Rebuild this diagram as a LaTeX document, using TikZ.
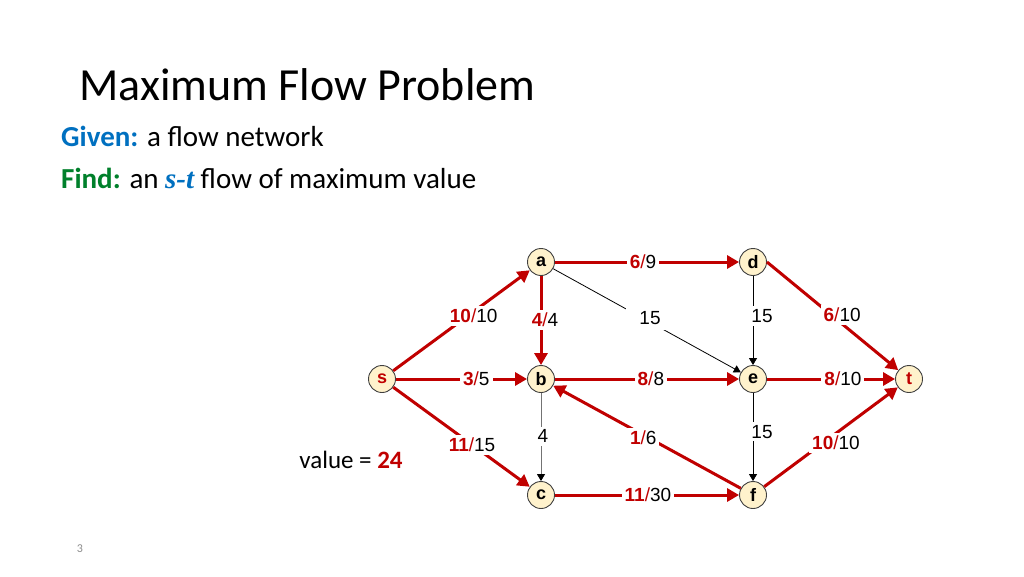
\documentclass[tikz,border=0pt]{standalone}
\usepackage{fontspec}
\setmainfont{Carlito}
\newfontfamily\arial{Liberation Sans}
\newfontfamily\serifit{Liberation Serif}
\usetikzlibrary{arrows.meta}
\definecolor{fred}{HTML}{C00000}
\definecolor{gblue}{HTML}{0070C0}
\definecolor{fgreen}{HTML}{00802B}
\definecolor{nodefill}{HTML}{FFF2CC}
\definecolor{pgnum}{HTML}{8C8C8C}
\newcommand\fl[2]{\textcolor{fred}{\textbf{#1}/}#2}
\tikzset{
  vtx/.style={circle, draw=black!75, line width=0.9pt, fill=nodefill, minimum size=27pt, inner sep=0pt, font=\arial\fontsize{18}{18}\selectfont\bfseries},
  redarrow/.style={draw=fred, line width=3pt, -{Triangle[length=12pt,width=13pt]}},
  blackarrow/.style={draw=black, line width=0.8pt, -{Triangle[length=7pt,width=8pt]}},
  greyarrow/.style={draw=black!55, line width=0.9pt, -{Triangle[length=7pt,width=8pt,color=black,fill=black]}},
  lab/.style={fill=white, inner xsep=3pt, inner ysep=3pt, text=black, font=\arial\fontsize{19}{19}\selectfont},
}
\begin{document}
\begin{tikzpicture}[x=1pt,y=-1pt]
\path[use as bounding box, fill=white] (0,0) rectangle (1024,576);

% texts
\node[anchor=base west, inner sep=0pt, font=\fontsize{46}{46}\selectfont] (title) at (79,100) {Maximum Flow Problem};
\node[anchor=base west, inner sep=0pt, font=\fontsize{29}{29}\selectfont] (given) at (61,146) {\textcolor{gblue}{\textbf{Given:}} a flow network};
\node[anchor=base west, inner sep=0pt, font=\fontsize{29}{29}\selectfont] (find) at (61,188) {\textcolor{fgreen}{\textbf{Find:}} an \textcolor{gblue}{\serifit\bfseries\itshape s-t} flow of maximum value};
\node[inner sep=0pt, font=\fontsize{25}{25}\selectfont] (value) at (351,460) {value = \textcolor{fred}{\textbf{24}}};
\node[inner sep=0pt, text=pgnum, font=\fontsize{12}{12}\selectfont] (pg) at (80,549) {3};

% vertices
\node[vtx, text=fred] (s) at (382,379) {s};
\node[vtx] (a) at (541,262) {a};
\node[vtx] (b) at (541,379) {b};
\node[vtx] (c) at (541,495) {c};
\node[vtx] (d) at (753,262) {d};
\node[vtx] (e) at (753,379) {e};
\node[vtx] (f) at (753,495) {f};
\node[vtx, text=fred] (t) at (909,379) {t};

% edges
\draw[blackarrow] (a) -- node[lab, pos=0.516, yshift=4pt, inner xsep=13pt, inner ysep=5pt] (lae) {15} (e);
\draw[blackarrow] (d) -- node[lab, pos=0.45, xshift=9pt] (lde) {15} (e);
\draw[blackarrow] (e) -- node[lab, pos=0.44, xshift=9pt] (lef) {15} (f);
\draw[greyarrow] (b) -- node[lab, pos=0.49, xshift=2pt] (lbc) {4} (c);
\draw[redarrow] (s) -- node[lab, pos=0.545, xshift=6pt] (lsa) {\fl{10}{10}} (a);
\draw[redarrow] (a) -- node[lab, pos=0.49, xshift=4pt] (lab1) {\fl{4}{4}} (b);
\draw[redarrow] (a) -- node[lab, pos=0.478] (lad) {\fl{6}{9}} (d);
\draw[redarrow] (d.east) -- node[lab, pos=0.489, xshift=11pt] (ldt) {\fl{6}{10}} (t);
\draw[redarrow] (s) -- node[lab, pos=0.613] (lsb) {\fl{3}{5}} (b);
\draw[redarrow] (b) -- node[lab, pos=0.521] (lbe) {\fl{8}{8}} (e);
\draw[redarrow] (e) -- node[lab, pos=0.593] (let) {\fl{8}{10}} (t);
\draw[redarrow] (f) -- node[lab, pos=0.52, yshift=-3pt] (lfb) {\fl{1}{6}} (b);
\draw[redarrow] (s) -- node[lab, pos=0.577] (lsc) {\fl{11}{15}} (c);
\draw[redarrow] (f) -- node[lab, pos=0.47, xshift=9pt, yshift=-3pt] (lft) {\fl{10}{10}} (t);
\draw[redarrow] (c) -- node[lab, pos=0.505] (lcf) {\fl{11}{30}} (f);
\end{tikzpicture}
\end{document}
